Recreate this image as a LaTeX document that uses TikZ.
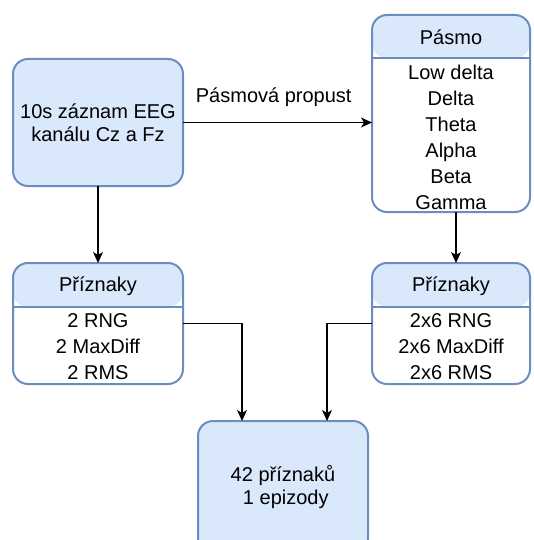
\documentclass[tikz,border=0pt]{standalone}
\usepackage{fontspec}
\setmainfont{Liberation Sans}
\usetikzlibrary{arrows.meta}
\definecolor{boxfill}{HTML}{DAE8FC}
\definecolor{boxline}{HTML}{6C8EBF}
\tikzset{
  box/.style={draw=boxline, line width=2pt, fill=boxfill, rounded corners=15pt,
    inner sep=0pt, outer sep=0pt, align=center,
    font={\fontsize{20}{23}\selectfont}},
  % box with a filled header band of height #1 and a white body
  headbox/.style={draw=boxline, line width=2pt, fill=white, rounded corners=15pt,
    inner sep=0pt, outer sep=0pt,
    path picture={
      \fill[boxfill] (path picture bounding box.north west) rectangle
        ([yshift=-#1]path picture bounding box.north east);
      \draw[boxline, line width=2pt, sharp corners]
        ([yshift=-#1]path picture bounding box.north west) --
        ([yshift=-#1]path picture bounding box.north east);
    }},
  label/.style={inner sep=0pt, align=center, font={\fontsize{20}{26}\selectfont}},
  arr/.style={draw=black, line width=1.3pt, -{Stealth[length=11pt,width=10pt,inset=3pt]}}
}
\begin{document}
\begin{tikzpicture}[x=1pt,y=-1pt]
  \useasboundingbox (0,0) rectangle (533,540);
  \clip (0,0) rectangle (533,540);

  % input signal
  \node[box, minimum width=170pt, minimum height=127pt] (eeg) at (98,122.5)
    {10s záznam EEG\\kanálu Cz a Fz};

  % frequency bands
  \node[headbox=43pt, minimum width=158pt, minimum height=197pt] (pasmo) at (451,113.5) {};
  \node[label] (pasmohead) at (451,37) {Pásmo};
  \node[label] (pasmobody) at (451,137.5)
    {Low delta\\Delta\\Theta\\Alpha\\Beta\\Gamma};

  % features of the raw channels
  \node[headbox=44pt, minimum width=170pt, minimum height=121pt] (lp) at (98,323.5) {};
  \node[label] (lphead) at (98,286) {Příznaky};
  \node[label] (lpbody) at (98,347) {2 RNG\\2 MaxDiff\\2 RMS};

  % features of the bands
  \node[headbox=44pt, minimum width=158pt, minimum height=121pt] (rp) at (451,323.5) {};
  \node[label] (rphead) at (451,286) {Příznaky};
  \node[label] (rpbody) at (451,347) {2x6 RNG\\2x6 MaxDiff\\2x6 RMS};

  % result
  \node[box, minimum width=170pt, minimum height=132pt] (out) at (283,487)
    {42 příznaků\\\ 1 epizody};

  % connectors
  \draw[arr] (eeg.east) -- (eeg.east -| pasmo.west)
    node[label, pos=0.48, yshift=25pt] (bp) {Pásmová propust};
  \draw[arr] (eeg.south) -- (lp.north);
  \draw[arr] ([xshift=5pt]pasmo.south) -- ([xshift=5pt]rp.north);
  \draw[arr] (lp.east) -| ([xshift=-41pt]out.north);
  \draw[arr] (rp.west) -| ([xshift=44pt]out.north);
\end{tikzpicture}
\end{document}
